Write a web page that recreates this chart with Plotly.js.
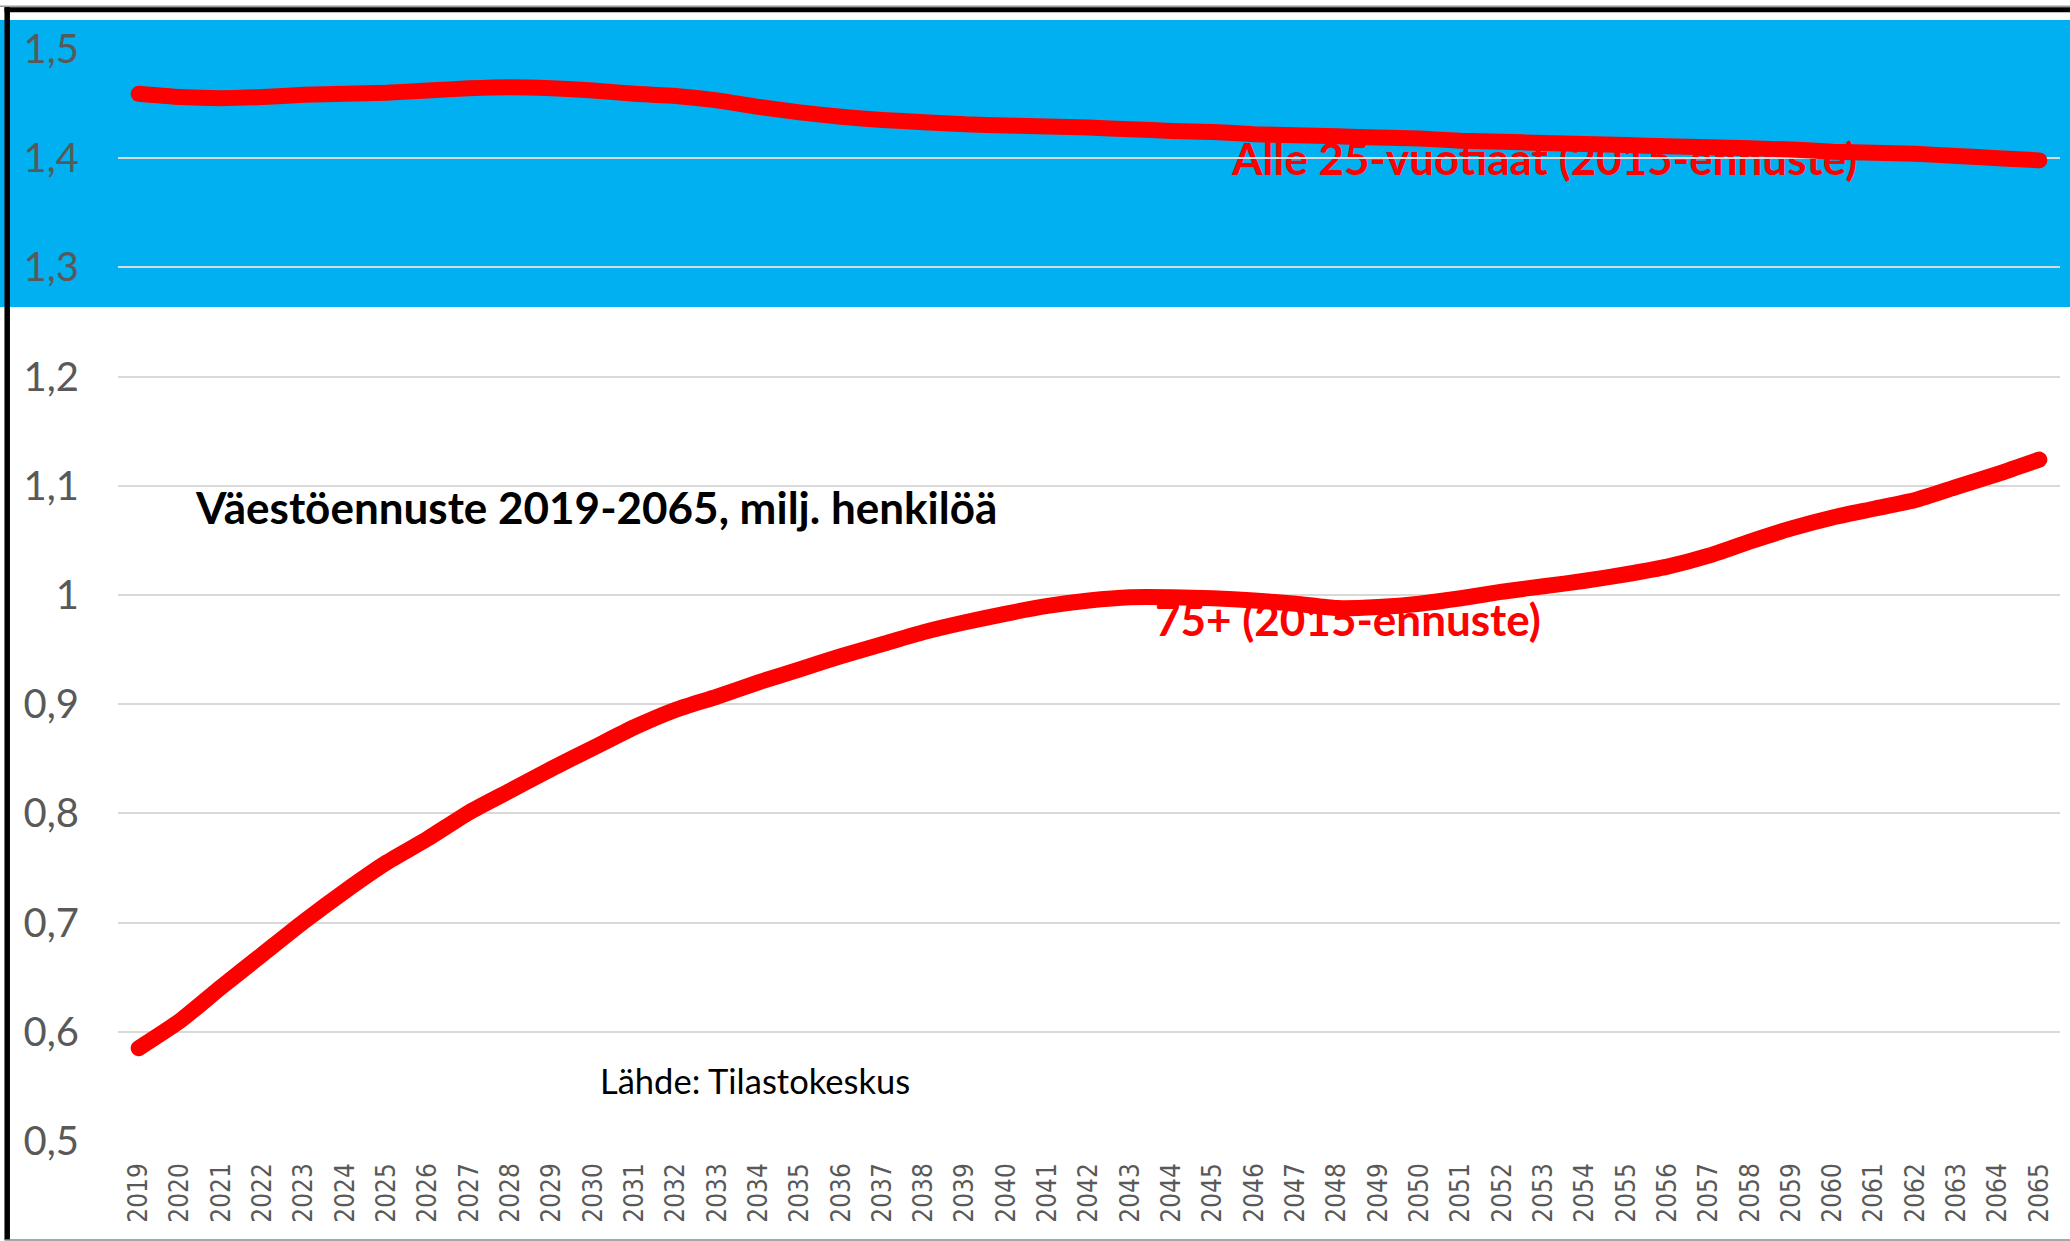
<!DOCTYPE html>
<html>
<head>
<meta charset="utf-8">
<script src="https://cdn.plot.ly/plotly-3.0.1.min.js"></script>
<style>
  html, body { margin: 0; padding: 0; background: #ffffff; }
  #chart { width: 2070px; height: 1241px; }
  .scatterlayer .js-line { stroke-linecap: round; }
</style>
</head>
<body>
<div id="chart"></div>
<script>
// ---- Data ----
const years = ["2019","2020","2021","2022","2023","2024","2025","2026","2027","2028",
  "2029","2030","2031","2032","2033","2034","2035","2036","2037","2038",
  "2039","2040","2041","2042","2043","2044","2045","2046","2047","2048",
  "2049","2050","2051","2052","2053","2054","2055","2056","2057","2058",
  "2059","2060","2061","2062","2063","2064","2065"];

// Alle 25-vuotiaat (2015-ennuste), milj.
const under25 = [1.459,1.456,1.455,1.456,1.458,1.459,1.460,1.462,1.464,1.465,
  1.464,1.462,1.459,1.457,1.453,1.447,1.442,1.438,1.435,1.433,
  1.431,1.430,1.429,1.428,1.4265,1.425,1.424,1.422,1.421,1.420,
  1.419,1.418,1.416,1.415,1.414,1.413,1.412,1.411,1.410,1.409,
  1.408,1.406,1.405,1.404,1.402,1.400,1.398];

// 75+ (2015-ennuste), milj.
const over75 = [0.585,0.610,0.641,0.671,0.701,0.729,0.755,0.777,0.801,0.821,
  0.841,0.860,0.879,0.895,0.907,0.920,0.932,0.944,0.955,0.966,
  0.975,0.983,0.990,0.995,0.998,0.998,0.997,0.995,0.992,0.988,
  0.989,0.992,0.997,1.003,1.008,1.013,1.019,1.026,1.036,1.049,
  1.061,1.071,1.079,1.087,1.099,1.111,1.124];

const yTickVals = [0.5,0.6,0.7,0.8,0.9,1.0,1.1,1.2,1.3,1.4,1.5];
const yTickText = ["0,5","0,6","0,7","0,8","0,9","1","1,1","1,2","1,3","1,4","1,5"];

const labelUnder25 = "Alle 25-vuotiaat (2015-ennuste)";
const labelOver75 = "75+ (2015-ennuste)";
const chartTitle = "Väestöennuste 2019-2065, milj. henkilöä";
const sourceText = "Lähde: Tilastokeskus";

// ---- Layout geometry ----
const W = 2070, H = 1241;
const M = {l: 118, r: 10, t: 49, b: 100};
const PW = W - M.l - M.r, PH = H - M.t - M.b;
const px = X => (X - M.l) / PW;
const py = Y => (H - M.b - Y) / PH;

const RED = "#ff0000";
const BLUE = "#00b0f0";
const TEXTFONT = "Lato, 'Open Sans', sans-serif";

const lineStyle = {color: RED, width: 16, shape: "spline", smoothing: 0.6};

const traces = [
  {x: years, y: under25, type: "scatter", mode: "lines", line: lineStyle, hoverinfo: "skip"},
  {x: years, y: over75, type: "scatter", mode: "lines", line: lineStyle, hoverinfo: "skip"}
];

const layout = {
  width: W, height: H,
  margin: {l: M.l, r: M.r, t: M.t, b: M.b, pad: 0},
  paper_bgcolor: "#ffffff",
  plot_bgcolor: "rgba(0,0,0,0)",
  showlegend: false,
  xaxis: {
    type: "category",
    range: [-0.5, years.length - 0.5],
    tickangle: -90,
    tickfont: {family: "'DejaVu Sans Condensed', 'DejaVu Sans', sans-serif", size: 26, color: "#595959"},
    ticklabelstandoff: 16,
    showgrid: false, zeroline: false, showline: false, ticks: ""
  },
  yaxis: {
    range: [0.5, 1.5],
    tickmode: "array", tickvals: yTickVals, ticktext: yTickText,
    tickfont: {family: TEXTFONT, size: 40, color: "#595959"},
    ticklabelstandoff: 38,
    showgrid: true, gridcolor: "#d9d9d9", gridwidth: 2,
    zeroline: false, showline: false, ticks: ""
  },
  shapes: [
    // blue band behind the upper series
    {type: "rect", xref: "paper", yref: "paper", layer: "below",
     x0: px(0), x1: px(W), y0: py(307), y1: py(20),
     fillcolor: BLUE, line: {width: 0}},
    // frame: thin grey + black top line
    {type: "line", xref: "paper", yref: "paper", layer: "above",
     x0: px(0), x1: px(W), y0: py(6.3), y1: py(6.3), line: {color: "#9a9a9a", width: 1.5}},
    {type: "line", xref: "paper", yref: "paper", layer: "above",
     x0: px(4.5), x1: px(W), y0: py(9.8), y1: py(9.8), line: {color: "#000000", width: 5}},
    // left black line
    {type: "line", xref: "paper", yref: "paper", layer: "above",
     x0: px(7.2), x1: px(7.2), y0: py(7.3), y1: py(1240), line: {color: "#000000", width: 5.5}},
    // bottom grey line
    {type: "line", xref: "paper", yref: "paper", layer: "above",
     x0: px(4.5), x1: px(W), y0: py(1240), y1: py(1240), line: {color: "#8a8a8a", width: 1.5}}
  ],
  annotations: [
    {text: labelUnder25, xref: "paper", yref: "paper", x: px(1229), y: py(158),
     xanchor: "left", yanchor: "middle", showarrow: false,
     font: {family: TEXTFONT, size: 44, color: RED, weight: "bold"}},
    {text: labelOver75, xref: "paper", yref: "paper", x: px(1153), y: py(619),
     xanchor: "left", yanchor: "middle", showarrow: false,
     font: {family: TEXTFONT, size: 44, color: RED, weight: "bold"}},
    {text: chartTitle, xref: "paper", yref: "paper", x: px(193), y: py(507),
     xanchor: "left", yanchor: "middle", showarrow: false,
     font: {family: TEXTFONT, size: 44, color: "#000000", weight: "bold"}},
    {text: sourceText, xref: "paper", yref: "paper", x: px(598), y: py(1080),
     xanchor: "left", yanchor: "middle", showarrow: false,
     font: {family: TEXTFONT, size: 34.5, color: "#000000"}}
  ]
};

const gd = document.getElementById("chart");
Plotly.newPlot(gd, traces, layout, {displayModeBar: false, staticPlot: true}).then(() => {
  // Put the text labels underneath the lines and gridlines, as in the reference.
  const mainSvg = gd.querySelector("svg.main-svg");
  const cart = mainSvg.querySelector(".cartesianlayer");
  gd.querySelectorAll("g.annotation").forEach(a => mainSvg.insertBefore(a, cart));
});
</script>
</body>
</html>
